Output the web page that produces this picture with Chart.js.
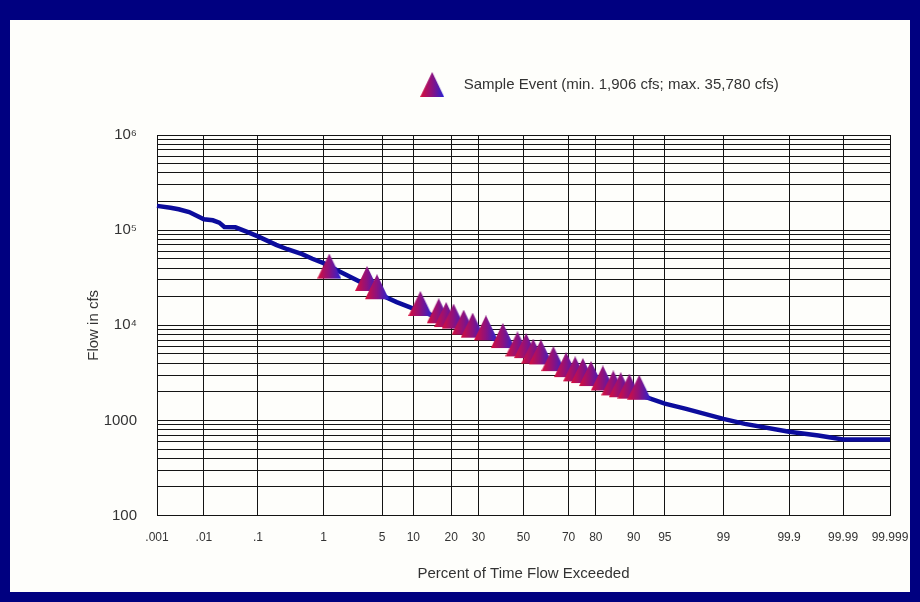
<!DOCTYPE html>
<html>
<head>
<meta charset="utf-8">
<script src="https://cdn.jsdelivr.net/npm/chart.js@4/dist/chart.umd.min.js"></script>
<style>
  body { margin: 0; background: #000080; }
  #frame { position: absolute; left: 0; top: 0; width: 920px; height: 602px; background: #000080; }
  #inner { position: absolute; left: 10px; top: 20px; width: 900px; height: 572px; background: #fefefb; }
</style>
</head>
<body>
<div id="frame">
  <div id="inner"><canvas id="flowChart" width="900" height="572"></canvas></div>
</div>
<script>
// flow duration curve (percent of time exceeded, cfs)
const CURVE_PCT = [0.001, 0.002, 0.003, 0.005, 0.01, 0.015, 0.02, 0.025, 0.04, 0.065, 0.1, 0.2, 0.3, 0.5, 0.7, 1, 1.5, 2, 3, 5, 7, 10, 15, 20, 30, 40, 50, 60, 70, 80, 90, 93, 95, 97, 99, 99.5, 99.9, 99.97, 99.99, 99.999];
const CURVE_FLOW = [180000, 172000, 166000, 155000, 130000, 127000, 120000, 108000, 107000, 96000, 86000, 70000, 63000, 56000, 50000, 45000, 38000, 33500, 28000, 20500, 17500, 15000, 12500, 11000, 8400, 6700, 5400, 4300, 3400, 2600, 1950, 1700, 1500, 1330, 1040, 920, 760, 695, 632, 632];

// sample event points
const SAMPLE_PCT = [1.19, 3.43, 4.41, 11.5, 16.2, 18.4, 20.8, 24.3, 27.7, 33.1, 40.5, 47.2, 51.2, 54.5, 58.0, 63.6, 69.0, 72.6, 75.5, 78.4, 82.2, 85.2, 87.1, 89.1, 91.1];
const SAMPLE_FLOW = [35780, 26550, 21720, 14490, 12140, 11090, 10670, 9220, 8580, 8040, 6670, 5450, 5230, 4570, 4490, 3820, 3300, 2980, 2860, 2660, 2390, 2120, 2030, 1960, 1906];

const X_TICKS = [0.001, 0.01, 0.1, 1, 5, 10, 20, 30, 50, 70, 80, 90, 95, 99, 99.9, 99.99, 99.999];
const X_TICK_LABELS = ['.001', '.01', '.1', '1', '5', '10', '20', '30', '50', '70', '80', '90', '95', '99', '99.9', '99.99', '99.999'];
const Y_LABEL_VALUES = [100, 1000, 10000, 100000, 1000000];
const Y_LABEL_TEXT = ['100', '1000', '10\u2074', '10\u2075', '10\u2076'];

const LEGEND_DX = 106;
const LEGEND_DY = -33;

// inverse of the standard normal cdf (Acklam)
function probit(p) {
  const a = [-39.69683028665376, 220.9460984245205, -275.9285104469687, 138.3577518672690, -30.66479806614716, 2.506628277459239];
  const b = [-54.47609879822406, 161.5858368580409, -155.6989798598866, 66.80131188771972, -13.28068155288572];
  const c = [-0.007784894002430293, -0.3223964580411365, -2.400758277161838, -2.549671348283932, 4.374664141464968, 2.938163982698783];
  const d = [0.007784695709041462, 0.3224671290700398, 2.445134137142996, 3.754408661907416];
  const lo = 0.02425;
  if (p < lo || p > 1 - lo) {
    const q = Math.sqrt(-2 * Math.log(p < lo ? p : 1 - p));
    const v = (((((c[0] * q + c[1]) * q + c[2]) * q + c[3]) * q + c[4]) * q + c[5]) /
              ((((d[0] * q + d[1]) * q + d[2]) * q + d[3]) * q + 1);
    return p < lo ? v : -v;
  }
  const q = p - 0.5, r = q * q;
  return (((((a[0] * r + a[1]) * r + a[2]) * r + a[3]) * r + a[4]) * r + a[5]) * q /
         (((((b[0] * r + b[1]) * r + b[2]) * r + b[3]) * r + b[4]) * r + 1);
}

// normal probability axis, values in percent
class ProbabilityScale extends Chart.LinearScale {
  determineDataLimits() {
    this.min = X_TICKS[0];
    this.max = X_TICKS[X_TICKS.length - 1];
  }
  buildTicks() {
    return X_TICKS.map(v => ({ value: v }));
  }
  getPixelForValue(value) {
    const z0 = probit(this.min / 100), z1 = probit(this.max / 100);
    return this.getPixelForDecimal((probit(value / 100) - z0) / (z1 - z0));
  }
  getValueForPixel(pixel) {
    const t = this.getDecimalForPixel(pixel);
    let lo = this.min, hi = this.max;
    for (let i = 0; i < 60; i++) {
      const mid = (lo + hi) / 2;
      if (this.getDecimalForPixel(this.getPixelForValue(mid)) < t) lo = mid; else hi = mid;
    }
    return lo;
  }
}
ProbabilityScale.id = 'probability';
ProbabilityScale.defaults = {};
Chart.register(ProbabilityScale);

function makeTriangle(anchor) {
  const w = 24, h = 25;
  const c = document.createElement('canvas');
  c.width = w;
  c.height = Math.round(anchor * 2);
  const g = c.getContext('2d');
  const grad = g.createLinearGradient(0, 0, w, 0);
  grad.addColorStop(0, '#d80e3a');
  grad.addColorStop(0.5, '#8c1280');
  grad.addColorStop(1, '#2622d4');
  g.fillStyle = grad;
  g.beginPath();
  g.moveTo(w / 2, 0);
  g.lineTo(w, h);
  g.lineTo(0, h);
  g.closePath();
  g.fill();
  return c;
}
const sampleMarker = makeTriangle(19);
const legendMarker = makeTriangle(12.5);

const legendOffset = {
  id: 'legendOffset',
  afterLayout(chart) {
    const lg = chart.legend;
    lg.left += LEGEND_DX; lg.right += LEGEND_DX;
    lg.top += LEGEND_DY; lg.bottom += LEGEND_DY;
  }
};

Chart.defaults.font.family = '"Liberation Sans", Arial, sans-serif';
Chart.defaults.color = '#333';

const ctx = document.getElementById('flowChart').getContext('2d');
new Chart(ctx, {
  type: 'line',
  data: {
    datasets: [{
      label: 'Sample Event (min. 1,906 cfs; max. 35,780 cfs)',
      data: SAMPLE_PCT.map((p, i) => ({ x: p, y: SAMPLE_FLOW[i] })),
      showLine: false,
      pointStyle: sampleMarker,
    }, {
      label: 'Flow duration',
      data: CURVE_PCT.map((p, i) => ({ x: p, y: CURVE_FLOW[i] })),
      borderColor: '#0c0c9c',
      borderWidth: 4.5,
      pointRadius: 0,
      tension: 0,
    }]
  },
  options: {
    responsive: false,
    animation: false,
    layout: { padding: { left: 75, right: 20, top: 80, bottom: 7 } },
    plugins: {
      legend: {
        labels: {
          usePointStyle: true,
          pointStyleWidth: 48,
          font: { size: 15 },
          color: '#333',
          filter: item => item.datasetIndex === 0,
          generateLabels(chart) {
            return Chart.defaults.plugins.legend.labels.generateLabels(chart)
              .map(item => Object.assign(item, { pointStyle: legendMarker }));
          }
        }
      },
      tooltip: { enabled: false },
    },
    scales: {
      x: {
        type: 'probability',
        grid: { color: '#141414', drawTicks: false },
        border: { color: '#141414' },
        afterFit(scale) {
          scale.paddingLeft = 0;
          scale.paddingRight = 0;
        },
        ticks: {
          autoSkip: false,
          maxRotation: 0,
          padding: 15,
          font: { size: 12 },
          callback: (value, index) => X_TICK_LABELS[index],
        },
        title: {
          display: true,
          text: 'Percent of Time Flow Exceeded',
          font: { size: 15 },
          padding: { top: 5, bottom: 2 },
        },
      },
      y: {
        type: 'logarithmic',
        min: 100,
        max: 1000000,
        grid: { color: '#141414', drawTicks: false },
        border: { color: '#141414' },
        afterBuildTicks(scale) {
          const ticks = [];
          for (let e = 2; e < 6; e++) {
            for (let k = 1; k < 10; k++) ticks.push({ value: k * Math.pow(10, e) });
          }
          ticks.push({ value: 1000000 });
          scale.ticks = ticks;
        },
        afterFit(scale) {
          scale.width = 72;
        },
        ticks: {
          autoSkip: false,
          padding: 20,
          font: { size: 15 },
          callback: (value) => {
            const i = Y_LABEL_VALUES.indexOf(value);
            return i < 0 ? '' : Y_LABEL_TEXT[i];
          },
        },
        title: {
          display: true,
          text: 'Flow in cfs',
          font: { size: 15 },
          padding: { top: 0, bottom: 4 },
        },
      },
    },
  },
  plugins: [legendOffset],
});
</script>
</body>
</html>
